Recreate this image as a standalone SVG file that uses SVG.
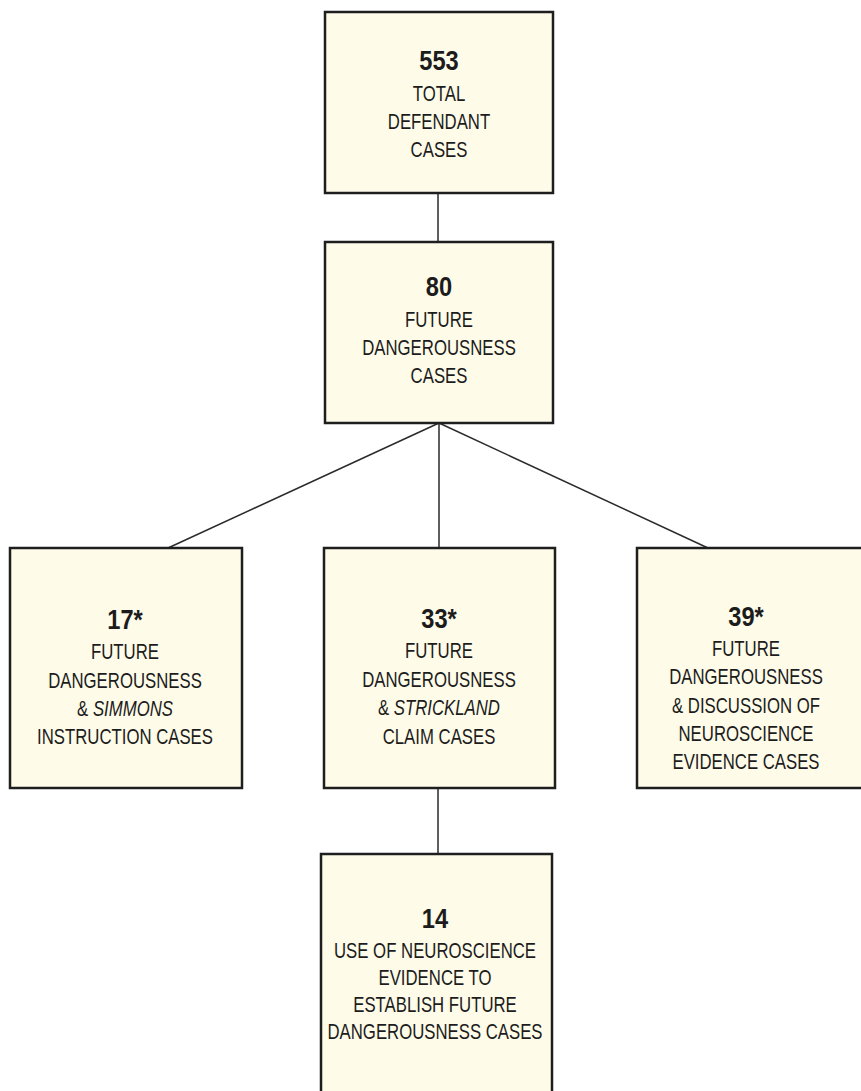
<svg xmlns="http://www.w3.org/2000/svg" width="861" height="1091" viewBox="0 0 861 1091">
<style>
.box{fill:#fefbe9;stroke:#1e1e1e;stroke-width:2.5}
.con{stroke:#2a2a2a;stroke-width:1.5;fill:none}
text{font-family:"Liberation Sans",Arial,sans-serif;fill:#1c1c1c;text-anchor:middle}
.num{font-size:28.5px;font-weight:bold}
.lbl{font-size:22.5px}
.it{font-style:italic}
</style>
<rect width="861" height="1091" fill="#ffffff"/>
<g id="connectors">
<line class="con" x1="438" y1="193" x2="438" y2="242"/>
<line class="con" x1="439" y1="423" x2="168" y2="548"/>
<line class="con" x1="439" y1="423" x2="439" y2="548"/>
<line class="con" x1="439" y1="423" x2="708" y2="548"/>
<line class="con" x1="438" y1="788" x2="438" y2="854"/>
</g>
<g id="n553">
<rect class="box" x="325" y="12" width="228" height="181"/>
<g transform="translate(439 0)">
<text class="num" transform="scale(.83 1)" y="70">553</text>
<text class="lbl" transform="scale(.745 1)" y="101">TOTAL</text>
<text class="lbl" transform="scale(.745 1)" y="129">DEFENDANT</text>
<text class="lbl" transform="scale(.745 1)" y="157">CASES</text>
</g>
</g>
<g id="n80">
<rect class="box" x="325" y="242" width="228" height="181"/>
<g transform="translate(439 0)">
<text class="num" transform="scale(.83 1)" y="296">80</text>
<text class="lbl" transform="scale(.745 1)" y="327">FUTURE</text>
<text class="lbl" transform="scale(.745 1)" y="355">DANGEROUSNESS</text>
<text class="lbl" transform="scale(.745 1)" y="383">CASES</text>
</g>
</g>
<g id="n17">
<rect class="box" x="10" y="548" width="232" height="240"/>
<g transform="translate(125 0)">
<text class="num" transform="scale(.83 1)" y="629">17*</text>
<text class="lbl" transform="scale(.745 1)" y="659">FUTURE</text>
<text class="lbl" transform="scale(.745 1)" y="688">DANGEROUSNESS</text>
<text class="lbl" transform="scale(.745 1)" y="716">&amp; <tspan class="it">SIMMONS</tspan></text>
<text class="lbl" transform="scale(.745 1)" y="744">INSTRUCTION CASES</text>
</g>
</g>
<g id="n33">
<rect class="box" x="324" y="548" width="231" height="240"/>
<g transform="translate(439 0)">
<text class="num" transform="scale(.83 1)" y="628">33*</text>
<text class="lbl" transform="scale(.745 1)" y="658">FUTURE</text>
<text class="lbl" transform="scale(.745 1)" y="687">DANGEROUSNESS</text>
<text class="lbl" transform="scale(.745 1)" y="715">&amp; <tspan class="it">STRICKLAND</tspan></text>
<text class="lbl" transform="scale(.745 1)" y="744">CLAIM CASES</text>
</g>
</g>
<g id="n39">
<rect class="box" x="637" y="548" width="234" height="240"/>
<g transform="translate(746 0)">
<text class="num" transform="scale(.83 1)" y="626">39*</text>
<text class="lbl" transform="scale(.745 1)" y="656">FUTURE</text>
<text class="lbl" transform="scale(.745 1)" y="684">DANGEROUSNESS</text>
<text class="lbl" transform="scale(.745 1)" y="713">&amp; DISCUSSION OF</text>
<text class="lbl" transform="scale(.745 1)" y="741">NEUROSCIENCE</text>
<text class="lbl" transform="scale(.745 1)" y="769">EVIDENCE CASES</text>
</g>
</g>
<g id="n14">
<rect class="box" x="321" y="854" width="231" height="250"/>
<g transform="translate(435 0)">
<text class="num" transform="scale(.83 1)" y="928">14</text>
<text class="lbl" transform="scale(.745 1)" y="958">USE OF NEUROSCIENCE</text>
<text class="lbl" transform="scale(.745 1)" y="985">EVIDENCE TO</text>
<text class="lbl" transform="scale(.745 1)" y="1012">ESTABLISH FUTURE</text>
<text class="lbl" transform="scale(.745 1)" y="1039">DANGEROUSNESS CASES</text>
</g>
</g>
</svg>
